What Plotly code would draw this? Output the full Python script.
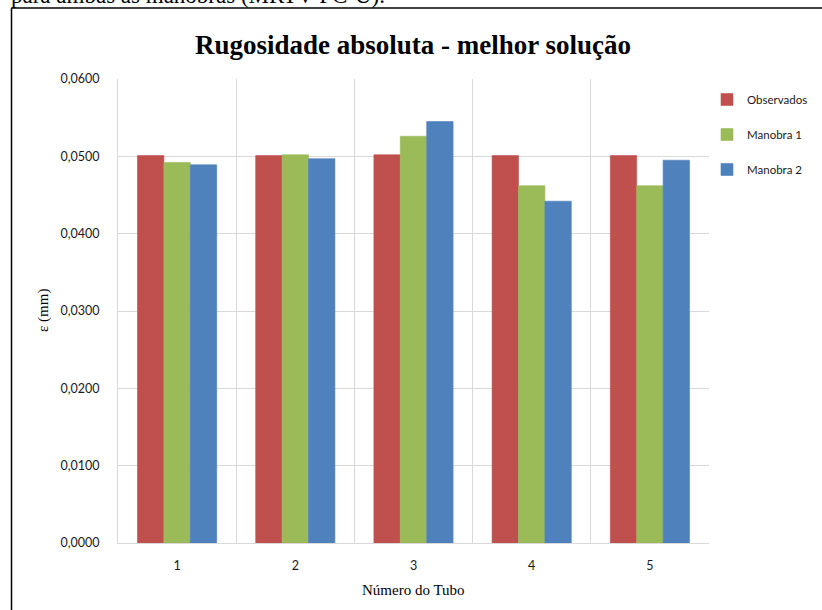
import plotly.graph_objects as go

# Tube numbers and absolute roughness (mm) for each series
tubos = ["1", "2", "3", "4", "5"]
observados = [0.0501, 0.0501, 0.0502, 0.0501, 0.0501]
manobra_1 = [0.0492, 0.0502, 0.0526, 0.0462, 0.0462]
manobra_2 = [0.0489, 0.0497, 0.0545, 0.0442, 0.0495]

series = [
    ("Observados", observados, "#C0504D"),
    ("Manobra 1", manobra_1, "#9BBB59"),
    ("Manobra 2", manobra_2, "#4F81BD"),
]

fig = go.Figure()
for i, (name, vals, color) in enumerate(series):
    fig.add_trace(go.Bar(
        x=tubos, y=vals, name=name, legendgroup=f"g{i}",
        marker=dict(color=color, line=dict(color=color, width=0.6)),
    ))

W, H = 822, 610
L, R, T, B = 118, 113, 79, 67
pw, ph = W - L - R, H - T - B


def px_x(x):
    return (x - L) / pw


def px_y(y):
    return (H - B - y) / ph


grid = "#D9D9D9"
tick_font = dict(family="Lato, Open Sans, sans-serif", size=12.5, color="#1a1a1a")
serif = "Liberation Serif, Times New Roman, serif"

fig.update_layout(
    width=W, height=H,
    margin=dict(l=L, r=R, t=T, b=B, autoexpand=False),
    paper_bgcolor="white", plot_bgcolor="white",
    separators=",.",
    barmode="group", bargap=0.33, bargroupgap=0.0,
    showlegend=True,
    legend=dict(
        x=px_x(707), y=px_y(85), xanchor="left", yanchor="top",
        font=dict(family="Lato, Open Sans, sans-serif", size=11.5, color="#1a1a1a"),
        tracegroupgap=16, bgcolor="rgba(0,0,0,0)",
    ),
    xaxis=dict(
        type="category", showgrid=True, gridcolor=grid, gridwidth=1,
        tickson="boundaries", ticks="outside", ticklen=0,
        showline=True, linecolor=grid, linewidth=1, mirror=False,
        tickfont=tick_font, ticklabelstandoff=11,
    ),
    yaxis=dict(
        range=[0, 0.06], dtick=0.01, tickformat=".4f",
        showgrid=True, gridcolor=grid, gridwidth=1,
        showline=True, linecolor=grid, linewidth=1,
        zeroline=False, ticks="", tickfont=tick_font, ticklabelstandoff=15,
    ),
    annotations=[
        dict(text="para ambas as manobras (MRTV-PC-U).", xref="paper", yref="paper",
             x=px_x(9), y=px_y(10), xanchor="left", yanchor="bottom", showarrow=False,
             font=dict(family=serif, size=23, color="black")),
        dict(text="<b>Rugosidade absoluta - melhor solução</b>", xref="paper", yref="paper",
             x=px_x(413), y=px_y(45), xanchor="center", yanchor="middle", showarrow=False,
             font=dict(family=serif, size=27, color="black")),
        dict(text="ε (mm)", xref="paper", yref="paper", textangle=-90,
             x=px_x(43), y=px_y(311), xanchor="center", yanchor="middle", showarrow=False,
             font=dict(family=serif, size=15, color="black")),
        dict(text="Número do Tubo", xref="paper", yref="paper",
             x=px_x(413), y=px_y(590), xanchor="center", yanchor="middle", showarrow=False,
             font=dict(family=serif, size=15, color="black")),
    ],
    shapes=[
        dict(type="line", xref="paper", yref="paper", x0=px_x(11.5), x1=px_x(11.5),
             y0=px_y(8), y1=px_y(612), line=dict(color="black", width=1.5)),
        dict(type="line", xref="paper", yref="paper", x0=px_x(11.5), x1=px_x(824),
             y0=px_y(8), y1=px_y(8), line=dict(color="black", width=1.5)),
    ],
)

fig.write_html("out.html")
